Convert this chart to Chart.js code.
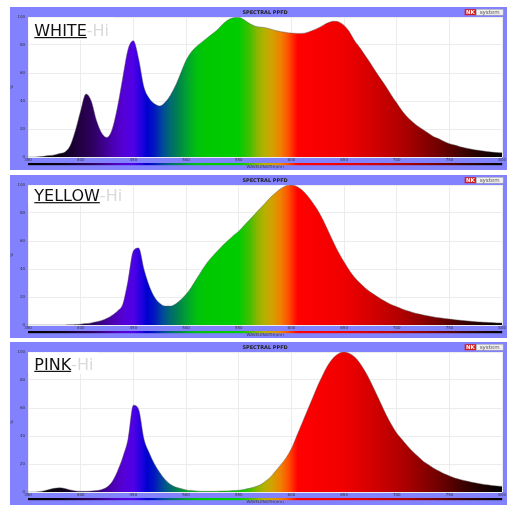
<!DOCTYPE html>
<html><head><meta charset="utf-8">
<script src="https://cdn.jsdelivr.net/npm/chart.js@4/dist/chart.umd.min.js"></script>
<style>
html,body{margin:0;padding:0;background:#fff;width:515px;height:507px;overflow:hidden}
.panel{position:absolute;left:10px;width:497px;height:163px}
canvas{display:block}
</style></head><body>
<div class="panel" style="top:7px"><canvas id="c0" width="497" height="163"></canvas></div>
<div class="panel" style="top:175px"><canvas id="c1" width="497" height="163"></canvas></div>
<div class="panel" style="top:342px"><canvas id="c2" width="497" height="163"></canvas></div>
<script>
const wavelengths = [350,355,360,365,370,375,380,385,390,395,400,405,410,415,420,425,430,435,440,445,450,455,460,465,470,475,480,485,490,495,500,505,510,515,520,525,530,535,540,545,550,555,560,565,570,575,580,585,590,595,600,605,610,615,620,625,630,635,640,645,650,655,660,665,670,675,680,685,690,695,700,705,710,715,720,725,730,735,740,745,750,755,760,765,770,775,780,785,790,795,800];
const whiteHi = [0,0,0.2,0.5,1,1.5,2.5,3.5,8,19,33,45,40,26,17,14,20,36,57,77,83,70,50,42,38,36.5,39,44,51,60,69,75,79,82,85,88,91,95,98,99.5,99.7,98,95.5,93.6,92.8,92.4,91.5,90.3,89.5,89,88.5,88.3,88.3,89,90.3,92,94,96,97,96.5,94,89.5,83,78,72.5,67,61,55.5,50,44,38.5,33,28.5,25,22,19.5,17,14.5,13,11,9.5,8.5,7.3,6.5,5.7,5,4.5,4,3.5,3.2,3];
const yellowHi = [0,0,0,0,0,0,0,0,0.1,0.3,0.6,1,1.5,2.3,3.3,4.8,7,10,15,32,53,55,40,28,20,15.5,13.5,13.5,15,18,22,27,33,39,44.5,49,53,57,60.5,64,67,71,75,79,83,87,91,94.5,97.5,99.5,100,99,96.5,92.5,87.5,82,75,67,59,51.5,45,39,34,30,26.5,23.5,21,18.5,16.5,14.5,13,11.5,10.2,9,8,7.2,6.5,5.8,5.2,4.7,4.2,3.8,3.4,3,2.7,2.4,2.1,1.9,1.7,1.5,1.4];
const pinkHi = [0,0,0.2,0.8,1.8,2.6,3,2.5,1.5,0.8,0.5,0.5,0.7,1,1.8,3.5,7.5,15,25,38,62,59,38,28,20,14,9,5.5,3.5,2.5,1.5,1,0.7,0.5,0.5,0.5,0.6,0.7,0.8,1,1.2,1.8,2.6,3.6,5,7.5,10.5,15,19.5,24.5,31,40,49,58,67,76,84,91,96,99,100,99,96.5,92,86,79,71,63,55,48,42,37.5,33,29,25.5,22,19.5,17,15,13,11.5,10,9,8,7.2,6.5,5.8,5.2,4.7,4.3,4];
const panelNames = ['WHITE','YELLOW','PINK'];
const panelSuffix = '-Hi';
const chartTitle = 'SPECTRAL PPFD';
const xTitle = 'WAVELENGTH(nm)';
const yTitle = '%';
const xMin = 350, xMax = 800, xStep = 50;
const yMin = 0, yMax = 100, yStep = 20;
const spectrumStops = [[350,'#000000'],[380,'#0a0014'],[395,'#1e0038'],[410,'#2c005a'],[420,'#3a0085'],[430,'#4a00b0'],[440,'#5500d5'],[450,'#5000e6'],[458,'#2000e0'],[463,'#0000d0'],[470,'#0018c0'],[478,'#004a9a'],[485,'#006a70'],[492,'#008050'],[500,'#00a030'],[510,'#00c010'],[520,'#00c800'],[550,'#00cc00'],[560,'#40c000'],[568,'#90b400'],[575,'#b8b000'],[582,'#d4a000'],[590,'#f08000'],[597,'#ff5000'],[603,'#ff1a00'],[606,'#ff0000'],[650,'#f00000'],[680,'#d00000'],[710,'#a80000'],[740,'#700000'],[770,'#300000'],[800,'#000000']];
const seriesList = [whiteHi, yellowHi, pinkHi];
const labelBaseline = [18.7, 15.8, 17.5];

function spectrumGradient(chart) {
  const a = chart.chartArea, xs = chart.scales.x, ctx = chart.ctx;
  const g = ctx.createLinearGradient(a.left, 0, a.right, 0);
  const span = a.right - a.left;
  spectrumStops.forEach(([w, c]) => {
    const f = (xs.getPixelForValue(w) - a.left) / span;
    g.addColorStop(Math.min(1, Math.max(0, f)), c);
  });
  return g;
}

const framePlugin = {
  id: 'frame',
  beforeDraw(chart) {
    const {ctx, chartArea: a, width, height} = chart;
    ctx.save();
    ctx.fillStyle = '#8282ff';
    ctx.fillRect(0, 0, width, height);
    ctx.fillStyle = '#ffffff';
    ctx.fillRect(a.left, a.top, a.right - a.left, a.bottom - a.top);
    ctx.restore();
  },
  afterDatasetsDraw(chart, args, opts) {
    const {ctx, chartArea: a} = chart;
    ctx.save();
    ctx.font = '16px "DejaVu Sans"';
    const lx = a.left + 6.3;
    const by = a.top + opts.baseline;
    const wMain = ctx.measureText(opts.label).width;
    const wHi = ctx.measureText(panelSuffix).width;
    ctx.fillStyle = '#ffffff';
    ctx.fillRect(a.left + 0.5, a.top + 0.5, lx - a.left + wMain + wHi + 4, by + 4 - a.top);
    ctx.textBaseline = 'alphabetic';
    ctx.fillStyle = '#111111';
    ctx.fillText(opts.label, lx, by);
    ctx.fillRect(lx, by + 1.3, wMain, 1.2);
    ctx.fillStyle = '#dadada';
    ctx.fillText(panelSuffix, lx + wMain, by);
    ctx.restore();
  },
  afterDraw(chart) {
    const {ctx, chartArea: a} = chart;
    ctx.save();
    ctx.fillStyle = spectrumGradient(chart);
    ctx.fillRect(a.left, a.bottom + 6, a.right - a.left, 2.2);
    // logo
    const lx = a.right - 37.5;
    ctx.fillStyle = '#d41c1c';
    ctx.fillRect(lx, 2.2, 11.5, 6);
    ctx.fillStyle = '#ffffff';
    ctx.font = 'bold 5.5px "DejaVu Sans"';
    ctx.textAlign = 'center';
    ctx.textBaseline = 'middle';
    ctx.fillText('NK', lx + 5.75, 5.3);
    ctx.fillStyle = '#f0f0f0';
    ctx.fillRect(lx + 11.5, 2.2, 27, 6);
    ctx.strokeStyle = '#9a9a9a';
    ctx.lineWidth = 0.5;
    ctx.strokeRect(lx + 11.5, 2.2, 27, 6);
    ctx.fillStyle = '#555555';
    ctx.font = '5.5px "DejaVu Sans"';
    ctx.fillText('system', lx + 25, 5.2);
    ctx.restore();
  }
};

seriesList.forEach((series, idx) => {
  new Chart(document.getElementById('c' + idx), {
    type: 'line',
    data: {
      datasets: [{
        data: wavelengths.map((w, i) => ({x: w, y: series[i]})),
        fill: 'origin',
        backgroundColor: (c) => c.chart.chartArea ? spectrumGradient(c.chart) : 'rgba(0,0,0,0)',
        borderColor: 'rgba(90,90,90,0.55)',
        borderWidth: 0.8,
        pointRadius: 0,
        cubicInterpolationMode: 'monotone'
      }]
    },
    options: {
      responsive: false,
      devicePixelRatio: 1,
      animation: false,
      layout: {padding: {left: 0, right: 4, top: 0, bottom: 0}},
      plugins: {
        legend: {display: false},
        tooltip: {enabled: false},
        title: {display: true, text: chartTitle, fullSize: false, color: '#222',
          font: {family: 'DejaVu Sans', size: 5, weight: 'bold'}, padding: {top: 3, bottom: 1}},
        frame: {label: panelNames[idx], baseline: labelBaseline[idx]}
      },
      scales: {
        x: {
          type: 'linear', min: xMin, max: xMax,
          ticks: {stepSize: xStep, font: {family: 'DejaVu Sans', size: 4}, color: '#333', padding: 1, maxRotation: 0},
          grid: {color: '#ececec', drawTicks: false},
          border: {display: false},
          title: {display: true, text: xTitle, font: {family: 'DejaVu Sans', size: 4}, color: '#333', padding: {top: 0, bottom: 1}},
          afterFit: (s) => { s.height = 13; }
        },
        y: {
          min: yMin, max: yMax,
          ticks: {stepSize: yStep, font: {family: 'DejaVu Sans', size: 4}, color: '#333', padding: 3},
          grid: {color: '#ececec', drawTicks: false},
          border: {display: false},
          title: {display: true, text: yTitle, font: {family: 'DejaVu Sans', size: 4}, color: '#333', padding: 0},
          afterFit: (s) => { s.width = 18; }
        }
      }
    },
    plugins: [framePlugin]
  });
});
</script>
</body></html>
